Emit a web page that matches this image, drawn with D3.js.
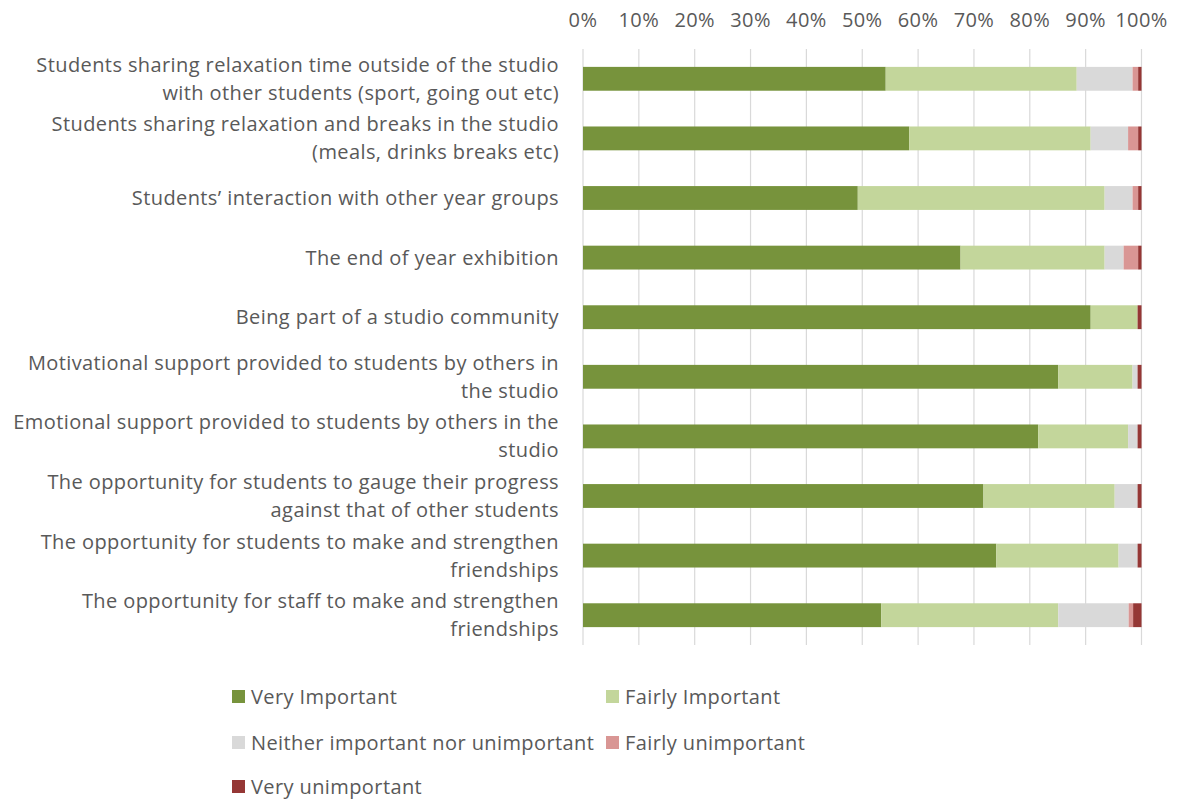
<!DOCTYPE html>
<html><head><meta charset="utf-8">
<script src="https://cdn.jsdelivr.net/npm/d3@7"></script>
<style>body{margin:0;background:#fff}</style>
</head><body>
<svg id="c" width="1178" height="800"></svg>
<script>
const categories = [
  ["Students sharing relaxation time outside of the studio", "with other students (sport, going out etc)"],
  ["Students sharing relaxation and breaks in the studio", "(meals, drinks breaks etc)"],
  ["Students\u2019 interaction with other year groups"],
  ["The end of year exhibition"],
  ["Being part of a studio community"],
  ["Motivational support provided to students by others in", "the studio"],
  ["Emotional support provided to students by others in the", "studio"],
  ["The opportunity for students to gauge their progress", "against that of other students"],
  ["The opportunity for students to make and strengthen", "friendships"],
  ["The opportunity for staff to make and strengthen", "friendships"]
];
const seriesNames = ["Very Important", "Fairly Important", "Neither important nor unimportant", "Fairly unimportant", "Very unimportant"];
const veryImportant      = [54.2, 58.4, 49.2, 67.6, 90.9, 85.1, 81.5, 71.7, 74.0, 53.4];
const fairlyImportant    = [34.2, 32.5, 44.2, 25.8, 8.4, 13.3, 16.1, 23.5, 21.9, 31.7];
const neither            = [10.0, 6.7, 5.0, 3.4, 0, 0.9, 1.7, 4.1, 3.4, 12.6];
const fairlyUnimportant  = [1.0, 1.8, 1.0, 2.6, 0, 0, 0, 0, 0, 0.8];
const veryUnimportant    = [0.6, 0.6, 0.6, 0.6, 0.7, 0.7, 0.7, 0.7, 0.7, 1.5];
const tickValues = [0, 10, 20, 30, 40, 50, 60, 70, 80, 90, 100];
const colors = ["#77933C", "#C3D69B", "#D9D9D9", "#D99694", "#953735"];

const seriesData = [veryImportant, fairlyImportant, neither, fairlyUnimportant, veryUnimportant];
const rows = categories.map((c, i) => {
  const o = {idx: i};
  seriesNames.forEach((s, j) => o[s] = seriesData[j][i]);
  return o;
});
const stacked = d3.stack().keys(seriesNames).offset(d3.stackOffsetExpand)(rows);

const svg = d3.select("#c");
const font = "'Open Sans', sans-serif";
const fs = 20;
const ls = 0.4;
const textColor = "#595959";
const x = d3.scaleLinear().domain([0, 1]).range([583, 1141.5]);
const y = d3.scaleBand().domain(d3.range(categories.length)).range([49, 645]).paddingInner(0.6).paddingOuter(0.3);

// gridlines
svg.append("g").selectAll("line").data(tickValues).join("line")
  .attr("x1", d => x(d/100)).attr("x2", d => x(d/100))
  .attr("y1", 49).attr("y2", 645)
  .attr("stroke", "#D9D9D9").attr("stroke-width", 1.2);

// tick labels
svg.append("g").selectAll("text").data(tickValues).join("text")
  .attr("x", d => x(d/100)).attr("y", 27)
  .attr("text-anchor", "middle")
  .attr("font-family", font).attr("font-size", fs).attr("letter-spacing", ls).attr("fill", textColor)
  .text(d => d + "%");

// bars
svg.append("g").selectAll("g").data(stacked).join("g")
  .attr("fill", (d, i) => colors[i])
  .selectAll("rect").data(d => d).join("rect")
  .attr("x", d => x(d[0])).attr("width", d => Math.max(0, x(d[1]) - x(d[0])))
  .attr("y", d => y(d.data.idx)).attr("height", y.bandwidth());

// category labels
const lab = svg.append("g").selectAll("text").data(categories).join("text")
  .attr("text-anchor", "end")
  .attr("font-family", font).attr("font-size", fs).attr("letter-spacing", ls).attr("fill", textColor);
lab.each(function(d, i) {
  const cy = y(i) + y.bandwidth()/2;
  const t = d3.select(this);
  const lh = 28;
  d.forEach((line, k) => {
    t.append("tspan").attr("x", 559)
      .attr("y", cy + (k - (d.length - 1)/2) * lh + 7)
      .text(line);
  });
});

// legend
const legendPos = [[232, 697], [606, 697], [232, 743], [606, 743], [232, 787]];
const lg = svg.append("g").selectAll("g").data(seriesNames).join("g")
  .attr("transform", (d, i) => `translate(${legendPos[i][0]},${legendPos[i][1]})`);
lg.append("rect").attr("x", 0).attr("y", -7).attr("width", 13).attr("height", 13)
  .attr("fill", (d, i) => colors[i]);
lg.append("text").attr("x", 19).attr("y", 7)
  .attr("font-family", font).attr("font-size", fs).attr("letter-spacing", ls).attr("fill", textColor)
  .text(d => d);
</script>
</body></html>
